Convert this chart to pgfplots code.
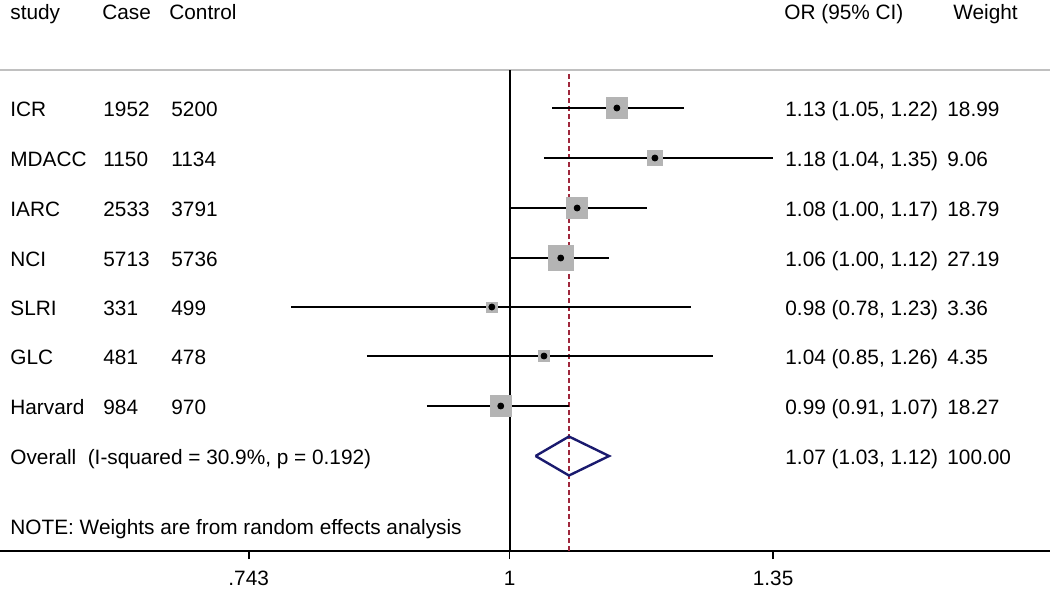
\documentclass[border=0pt]{standalone}
\usepackage{pgfplots}
\pgfplotsset{compat=1.18}
\usepackage{pgfplotstable}
\usepackage{fontspec}
\setmainfont{Liberation Sans}
\definecolor{sqgray}{RGB}{180,180,180}
\definecolor{refred}{RGB}{160,40,60}
\definecolor{navy}{RGB}{26,26,110}
\definecolor{hdrline}{RGB}{192,192,192}
\newcommand\fs{\fontsize{10.4}{12}\selectfont}
\newcommand\T[3]{\node[anchor=base west,inner sep=0pt,font=\fs] at ({#1*0.5pt},{(551-#2-8)*0.5pt}) {#3};}
\pgfplotstableread{
y   or   lo   hi   w
443 1.13 1.05 1.22 18.99
393 1.18 1.04 1.35 9.06
343 1.08 1.00 1.17 18.79
293 1.06 1.00 1.12 27.19
244 0.98 0.78 1.23 3.36
195 1.04 0.85 1.26 4.35
145 0.99 0.91 1.07 18.27
}\studies
\begin{document}
\begin{tikzpicture}
\begin{axis}[
  at={(0,0)}, anchor=south west,
  scale only axis, width=525pt, height=275.5pt,
  xmode=log, xmin=0.5597, xmax=1.8507,
  ymin=0, ymax=551,
  axis x line=bottom, axis y line=none,
  axis line style={-, black, line width=0.9pt},
  xtick={0.743,1,1.35}, xticklabels={.743,1,1.35},
  minor xtick={},
  tick align=outside, major tick length=4pt,
  tick style={black, line width=0.9pt},
  xticklabel style={font=\fs, yshift=-2.5pt},
  clip=false,
]
% header rule
\addplot[hdrline, line width=1pt] coordinates {(0.5597,481) (1.8507,481)};
% null line
\addplot[black, line width=1pt] coordinates {(1,0) (1,481)};
% overall effect line
\addplot[refred, line width=0.9pt, dash pattern=on 2.5pt off 1.5pt] coordinates {(1.07,0) (1.07,478)};
% weight squares
\addplot[scatter, only marks, mark=square*, point meta={\thisrow{w}},
  scatter/use mapped color={draw=sqgray, fill=sqgray},
  visualization depends on={\thisrow{w}\as\wt},
  scatter/@pre marker code/.append style={/tikz/mark size={(2.5+4.2*sqrt(\wt))/4}}]
  table[x=or,y=y]{\studies};
% confidence intervals
\addplot[black, line width=1.4pt] coordinates {(1.05,443) (1.22,443)};
\addplot[black, line width=1.4pt] coordinates {(1.04,393) (1.35,393)};
\addplot[black, line width=1.4pt] coordinates {(1.00,343) (1.17,343)};
\addplot[black, line width=1.4pt] coordinates {(1.00,293) (1.12,293)};
\addplot[black, line width=1.4pt] coordinates {(0.78,244) (1.23,244)};
\addplot[black, line width=1.4pt] coordinates {(0.85,195) (1.26,195)};
\addplot[black, line width=1.4pt] coordinates {(0.91,145) (1.07,145)};
% point estimates
\addplot[only marks, mark=*, mark size=1.5pt, black] table[x=or,y=y]{\studies};
% overall diamond
\addplot[navy, line width=1.2pt, line join=miter] coordinates {(1.03,95) (1.07,114.5) (1.12,95) (1.07,75.5) (1.03,95)};
\end{axis}
% header
\T{10}{11}{study}
\T{102}{11}{Case}
\T{169}{11}{Control}
\T{784}{11}{OR (95\% CI)}
\T{953}{11}{Weight}
% rows
\T{10}{108}{ICR}     \T{103}{108}{1952} \T{171}{108}{5200} \T{785}{108}{1.13 (1.05, 1.22)} \T{947}{108}{18.99}
\T{10}{158}{MDACC}   \T{103}{158}{1150} \T{171}{158}{1134} \T{785}{158}{1.18 (1.04, 1.35)} \T{947}{158}{9.06}
\T{10}{208}{IARC}    \T{103}{208}{2533} \T{171}{208}{3791} \T{785}{208}{1.08 (1.00, 1.17)} \T{947}{208}{18.79}
\T{10}{258}{NCI}     \T{103}{258}{5713} \T{171}{258}{5736} \T{785}{258}{1.06 (1.00, 1.12)} \T{947}{258}{27.19}
\T{10}{307}{SLRI}    \T{103}{307}{331}  \T{171}{307}{499}  \T{785}{307}{0.98 (0.78, 1.23)} \T{947}{307}{3.36}
\T{10}{356}{GLC}     \T{103}{356}{481}  \T{171}{356}{478}  \T{785}{356}{1.04 (0.85, 1.26)} \T{947}{356}{4.35}
\T{10}{406}{Harvard} \T{103}{406}{984}  \T{171}{406}{970}  \T{785}{406}{0.99 (0.91, 1.07)} \T{947}{406}{18.27}
\T{10}{456}{Overall\ \ (I-squared = 30.9\%, p = 0.192)} \T{785}{456}{1.07 (1.03, 1.12)} \T{947}{456}{100.00}
\T{10}{526}{NOTE: Weights are from random effects analysis}
\pgfresetboundingbox
\path (0,-20pt) rectangle (525pt,275.5pt);
\end{tikzpicture}
\end{document}
